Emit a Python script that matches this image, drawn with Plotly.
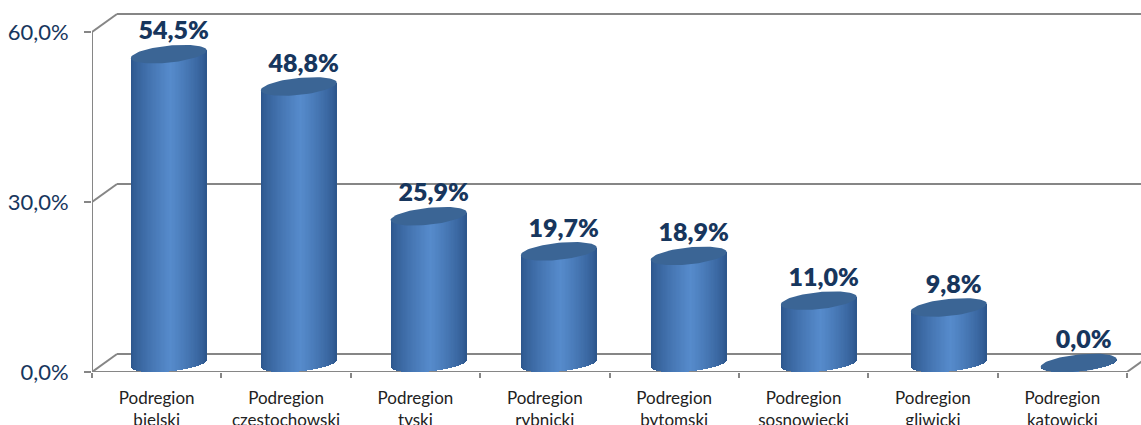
import math
import plotly.graph_objects as go

categories = ["Podregion<br>bielski", "Podregion<br>czestochowski", "Podregion<br>tyski", "Podregion<br>rybnicki",
              "Podregion<br>bytomski", "Podregion<br>sosnowiecki", "Podregion<br>gliwicki", "Podregion<br>katowicki"]
values = [54.5, 48.8, 25.9, 19.7, 18.9, 11.0, 9.8, 0.0]
y_ticks = [0, 30, 60]
y_tick_labels = ["0,0%", "30,0%", "60,0%"]

W, H = 1141, 425
X0, X1, Y0, Y60 = 92, 1127, 372, 32
CAT_PX = (X1 - X0) / 8
PX_UNIT = (Y0 - Y60) / 60
NAVY = "#17365d"
GREY = "#868686"
DEPTH_X, DEPTH_Y = 25 / CAT_PX, 18 / PX_UNIT

A = 38 / CAT_PX          # half width of a cylinder, category units
B = 8.5 / PX_UNIT        # half height of the ellipse, value units
TILT = 3.8 / PX_UNIT     # rise of the ellipse from centre to right end
SHIFT_X = 12 / CAT_PX    # cylinders stand mid-depth
SHIFT_Y = 9 / PX_UNIT
DRIFT = 130 / CAT_PX - 1 # cylinders are spaced very slightly wider than the ticks
SLICES = 60


def mix(u):
    t = max(0.0, 1 - abs(u - 0.05) / (1.05 if u < 0.05 else 0.95))
    t = t ** 0.75
    dark, light = (43, 84, 138), (86, 139, 204)
    return "rgb(%d,%d,%d)" % tuple(round(d + (l - d) * t) for d, l in zip(dark, light))


fig = go.Figure()

for s in range(SLICES):
    u0 = -1 + 2 * s / SLICES
    u1 = -1 + 2 * (s + 1) / SLICES
    um = (u0 + u1) / 2
    bases, heights, offsets = [], [], []
    for i, v in enumerate(values):
        bottom = SHIFT_Y + TILT * um - B * math.sqrt(max(0, 1 - um * um))
        top = v + SHIFT_Y + TILT * um
        bases.append(bottom)
        heights.append(top - bottom)
        offsets.append(SHIFT_X + i * DRIFT + A * u0)
    fig.add_trace(go.Bar(
        x=categories, y=heights, base=bases,
        offset=offsets, width=A * (u1 - u0) * 1.6,
        marker=dict(color=mix(um), line=dict(width=0)),
        cliponaxis=False, hoverinfo="skip", showlegend=False))

for i, v in enumerate(values):
    ts = [2 * math.pi * k / 72 for k in range(73)]
    fig.add_trace(go.Scatter(
        x=[i * (1 + DRIFT) + SHIFT_X + A * math.cos(t) for t in ts],
        y=[v + SHIFT_Y + TILT * math.cos(t) + B * math.sin(t) for t in ts],
        mode="lines", fill="toself", fillcolor="#3b6595",
        line=dict(width=0), xaxis="x2", hoverinfo="skip", showlegend=False, cliponaxis=False))

fig.add_trace(go.Scatter(
    x=[i * (1 + DRIFT) + 17 / CAT_PX for i in range(len(values))],
    y=[v + 30 / PX_UNIT for v in values],
    text=[f"{v:.1f}%".replace(".", ",") for v in values],
    mode="text", textposition="middle center",
    textfont=dict(family="Lato", size=25, color=NAVY, weight=800),
    xaxis="x2", hoverinfo="skip", showlegend=False, cliponaxis=False))

shapes = []
line = dict(color=GREY, width=2)
right_end = (W - X0) / CAT_PX - 0.5
for v in y_ticks:
    shapes.append(dict(type="line", layer="below", xref="x", yref="y", x0=-0.5, y0=v,
                       x1=-0.5 + DEPTH_X, y1=v + DEPTH_Y, line=line))
    shapes.append(dict(type="line", layer="below", xref="x", yref="y", x0=-0.5 + DEPTH_X, y0=v + DEPTH_Y,
                       x1=right_end, y1=v + DEPTH_Y, line=line))
shapes.append(dict(type="line", layer="below", xref="x", yref="y", x0=-0.5, y0=0, x1=-0.5, y1=60, line=line))
shapes.append(dict(type="line", layer="below", xref="x", yref="y", x0=-0.5, y0=0, x1=7.5, y1=0, line=line))
shapes.append(dict(type="line", layer="below", xref="x", yref="y", x0=7.5, y0=0,
                   x1=7.5 + DEPTH_X, y1=DEPTH_Y, line=line))

fig.update_layout(
    width=W, height=H, autosize=False,
    margin=dict(l=X0, r=0, t=0, b=H - Y0, pad=0),
    paper_bgcolor="white", plot_bgcolor="white",
    barmode="overlay", bargap=0, showlegend=False, shapes=shapes,
    font=dict(family="Lato"),
    xaxis=dict(type="category", categoryorder="array", categoryarray=categories,
               range=[-0.5, right_end], tickson="boundaries",
               ticks="outside", ticklen=5, tickwidth=1.5, tickcolor=GREY,
               ticklabelstandoff=14,
               tickangle=0, showgrid=False, zeroline=False, showline=False, automargin=False,
               tickfont=dict(family="Lato", size=17, color="#222222")),
    xaxis2=dict(overlaying="x", range=[-0.5, right_end], visible=False),
    yaxis=dict(range=[0, Y0 / PX_UNIT], tickvals=y_ticks, ticktext=y_tick_labels,
               ticks="outside", ticklen=7, tickwidth=1.5, tickcolor=GREY,
               ticklabelstandoff=11, showgrid=False, zeroline=False, showline=False, automargin=False,
               tickfont=dict(family="Lato", size=22, color=NAVY)),
)

fig.write_html("out.html", config=dict(displayModeBar=False), post_script="document.body.style.margin='0';")
